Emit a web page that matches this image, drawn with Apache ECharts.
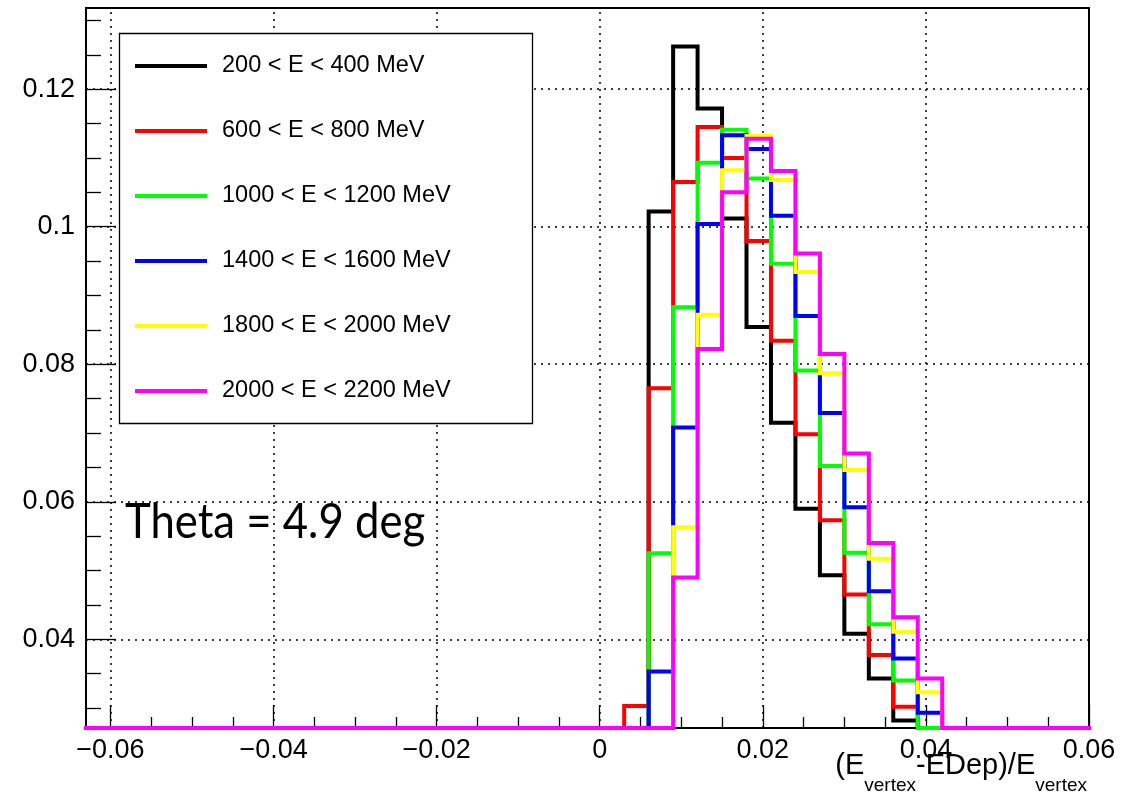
<!DOCTYPE html>
<html>
<head>
<meta charset="utf-8">
<script src="https://cdn.jsdelivr.net/npm/echarts@6/dist/echarts.min.js"></script>
<style>
  html, body { margin: 0; padding: 0; background: #fff; }
  #chart { width: 1145px; height: 797px; }
</style>
</head>
<body>
<div id="chart"></div>
<script>
// Histogram range and binning
const histMin = -0.063;
const histMax = 0.06;
const binWidth = 0.003;
// Lower edges of the populated bins
const binLow = [0.003, 0.006, 0.009, 0.012, 0.015, 0.018, 0.021, 0.024, 0.027, 0.030, 0.033, 0.036, 0.039];

// Normalised counts per energy range
const e200_400   = [0, 0.1022, 0.1262, 0.1172, 0.1012, 0.0854, 0.0715, 0.0590, 0.0493, 0.0408, 0.0343, 0.0282, 0];
const e600_800   = [0.0303, 0.0765, 0.1065, 0.1145, 0.1100, 0.0979, 0.0834, 0.0698, 0.0573, 0.0465, 0.0377, 0.0302, 0];
const e1000_1200 = [0, 0.0525, 0.0883, 0.1093, 0.1141, 0.1070, 0.0946, 0.0791, 0.0652, 0.0526, 0.0422, 0.0340, 0];
const e1400_1600 = [0, 0.0353, 0.0708, 0.1004, 0.1133, 0.1113, 0.1016, 0.0870, 0.0729, 0.0592, 0.0470, 0.0372, 0.0293];
const e1800_2000 = [0, 0, 0.0563, 0.0872, 0.1082, 0.1132, 0.1068, 0.0934, 0.0787, 0.0646, 0.0517, 0.0411, 0.0323];
const e2000_2200 = [0, 0, 0.0490, 0.0822, 0.1050, 0.1128, 0.1081, 0.0961, 0.0815, 0.0670, 0.0540, 0.0432, 0.0343];

const seriesNames = [
  '200 < E < 400 MeV',
  '600 < E < 800 MeV',
  '1000 < E < 1200 MeV',
  '1400 < E < 1600 MeV',
  '1800 < E < 2000 MeV',
  '2000 < E < 2200 MeV'
];
const seriesColors = ['#000000', '#ff0000', '#00ff00', '#0000ff', '#ffff00', '#ff00ff'];
const seriesValues = [e200_400, e600_800, e1000_1200, e1400_1600, e1800_2000, e2000_2200];

// Axis extents and ticks
const yMin = 0.0271;
const yMax = 0.1318;
const xMajorTicks = [-0.06, -0.04, -0.02, 0, 0.02, 0.04, 0.06];
const xTickLabels = ['\u22120.06', '\u22120.04', '\u22120.02', '0', '0.02', '0.04', '0.06'];
const xMinorTicks = [-0.055, -0.05, -0.045, -0.035, -0.03, -0.025, -0.015, -0.01, -0.005,
                     0.005, 0.01, 0.015, 0.025, 0.03, 0.035, 0.045, 0.05, 0.055];
const yMajorTicks = [0.04, 0.06, 0.08, 0.1, 0.12];
const yTickLabels = ['0.04', '0.06', '0.08', '0.1', '0.12'];
const yMinorTicks = [0.03, 0.035, 0.045, 0.05, 0.055, 0.065, 0.07, 0.075, 0.085, 0.09, 0.095,
                     0.105, 0.11, 0.115, 0.125, 0.13];

const FONT = 'Liberation Sans, Arial, Helvetica, sans-serif';

// Step outline of one histogram; empty bins sit on the lower edge of the frame
function histPoints(values) {
  const pts = [[histMin, yMin]];
  values.forEach((v, i) => pts.push([binLow[i], Math.max(v, yMin)]));
  pts.push([binLow[binLow.length - 1] + binWidth, yMin]);
  pts.push([histMax, yMin]);
  return pts;
}

function labelFor(ticks, labels) {
  return v => {
    const k = ticks.findIndex(t => Math.abs(t - v) < 1e-9);
    return k >= 0 ? labels[k] : '';
  };
}

const chart = echarts.init(document.getElementById('chart'), null, { renderer: 'canvas' });

const gridLineData = []
  .concat(yMajorTicks.map(v => ({ yAxis: v })))
  .concat(xMajorTicks.map(v => ({ xAxis: v })));

const series = [{
  name: '__grid',
  type: 'line',
  data: [],
  z: 1,
  silent: true,
  markLine: {
    z: 1,
    silent: true,
    symbol: 'none',
    label: { show: false },
    lineStyle: { color: '#000', type: [2, 5], width: 1.5 },
    emphasis: { disabled: true },
    data: gridLineData,
    animation: false
  }
}].concat(seriesValues.map((vals, i) => ({
  name: seriesNames[i],
  type: 'line',
  step: 'end',
  data: histPoints(vals),
  showSymbol: false,
  symbol: 'none',
  clip: false,
  z: 5 + i,
  lineStyle: { color: seriesColors[i], width: 4, join: 'miter', cap: 'square' },
  itemStyle: { color: seriesColors[i] },
  emphasis: { disabled: true },
  animation: false
})));

const option = {
  animation: false,
  backgroundColor: '#ffffff',
  textStyle: { fontFamily: FONT },
  grid: {
    left: 86, right: 56, top: 8, bottom: 69,
    show: true, borderColor: '#000', borderWidth: 2, backgroundColor: 'transparent'
  },
  xAxis: [{
    type: 'value',
    min: histMin, max: histMax,
    position: 'bottom',
    axisLine: { show: true, onZero: false, lineStyle: { color: '#000', width: 2 } },
    axisTick: { show: true, inside: true, length: 23, customValues: xMajorTicks,
                lineStyle: { color: '#000', width: 1.3 } },
    axisLabel: {
      show: true, customValues: xMajorTicks, margin: 9,
      color: '#000', fontSize: 27, fontFamily: FONT,
      formatter: labelFor(xMajorTicks, xTickLabels)
    },
    splitLine: { show: false }
  }, {
    type: 'value',
    min: histMin, max: histMax,
    position: 'bottom',
    axisLine: { show: false, onZero: false },
    axisTick: { show: true, inside: true, length: 11, customValues: xMinorTicks,
                lineStyle: { color: '#000', width: 1.3 } },
    axisLabel: { show: false },
    splitLine: { show: false }
  }],
  yAxis: [{
    type: 'value',
    min: yMin, max: yMax,
    position: 'left',
    axisLine: { show: true, onZero: false, lineStyle: { color: '#000', width: 2 } },
    axisTick: { show: true, inside: true, length: 30, customValues: yMajorTicks,
                lineStyle: { color: '#000', width: 1.3 } },
    axisLabel: {
      show: true, customValues: yMajorTicks, margin: 11,
      color: '#000', fontSize: 27, fontFamily: FONT,
      formatter: labelFor(yMajorTicks, yTickLabels)
    },
    splitLine: { show: false }
  }, {
    type: 'value',
    min: yMin, max: yMax,
    position: 'left',
    axisLine: { show: false, onZero: false },
    axisTick: { show: true, inside: true, length: 15, customValues: yMinorTicks,
                lineStyle: { color: '#000', width: 1.3 } },
    axisLabel: { show: false },
    splitLine: { show: false }
  }],
  legend: {
    z: 10,
    show: true,
    orient: 'vertical',
    left: 135, top: 54,
    padding: 0,
    itemGap: 41,
    itemWidth: 72, itemHeight: 4,
    icon: 'rect',
    selectedMode: false,
    data: seriesNames,
    textStyle: { color: '#000', fontSize: 23.5, fontFamily: FONT, lineHeight: 24, padding: [0, 0, 0, 10] }
  },
  graphic: [
    {
      type: 'rect', z: 3, silent: true,
      shape: { x: 119.5, y: 33.5, width: 413, height: 390 },
      style: { fill: '#fff', stroke: '#000', lineWidth: 1.3 }
    },
    {
      type: 'text', z: 12, silent: true,
      x: 125, y: 523, scaleX: 0.91,
      style: {
        text: 'Theta = 4.9 deg',
        font: '48px Lato, "Open Sans", sans-serif',
        fill: '#000', textAlign: 'left', textVerticalAlign: 'middle'
      }
    },
    {
      type: 'text', z: 12, silent: true,
      right: 58, top: 751,
      style: {
        text: '{a|(E}{s|vertex}{a|-EDep)/E}{s|vertex}',
        fill: '#000',
        rich: {
          a: { fontSize: 29, fontFamily: FONT, lineHeight: 32, verticalAlign: 'top', fill: '#000' },
          s: { fontSize: 19, fontFamily: FONT, lineHeight: 22, verticalAlign: 'top', padding: [25, 0, 0, 0], fill: '#000' }
        }
      }
    }
  ],
  series: series
};

chart.setOption(option);
</script>
</body>
</html>
